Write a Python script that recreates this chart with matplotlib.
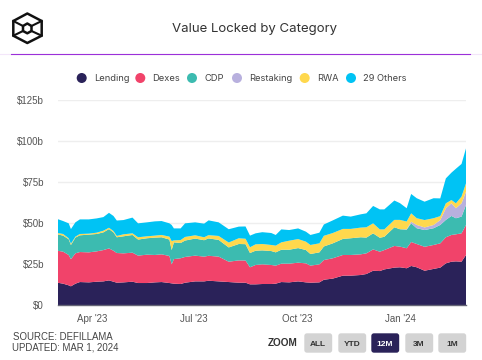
import matplotlib
matplotlib.use('Agg')
import matplotlib.pyplot as plt
import pandas as pd
from matplotlib.patches import Circle, FancyBboxPatch, Polygon

# Days since 1 Mar 2023, values in $b
days = [0, 5, 10, 12, 16, 20, 28, 35, 41, 46, 50, 53, 59, 67, 72, 80, 87, 93, 100, 102, 104,
        110, 114, 123, 131, 135, 144, 153, 162, 168, 172, 177, 183, 191, 195, 200, 207, 215,
        222, 226, 234, 238, 246, 255, 262, 271, 276, 282, 288, 292, 301, 306, 312, 316, 321,
        328, 336, 342, 347, 352, 356, 361, 365]
lending = [13.6, 13.0, 12.0, 11.4, 13.0, 14.0, 13.8, 14.2, 14.4, 15.0, 14.2, 13.6, 13.8, 14.2, 13.4, 13.4, 13.8,
           14.0, 13.4, 13.2, 13.0, 12.8, 13.6, 14.4, 14.4, 14.8, 14.4, 14.0, 13.6, 13.6, 12.6, 12.6, 12.8,
           12.8, 13.0, 14.0, 13.8, 14.4, 13.8, 13.6, 13.8, 15.4, 16.1, 17.9, 17.9, 18.3, 18.9, 20.9, 20.7,
           21.7, 22.8, 23.0, 22.4, 23.8, 23.0, 20.9, 22.0, 22.8, 25.4, 26.4, 26.6, 26.4, 30.5]
dexes = [19.5, 19.5, 18.5, 16.5, 18.5, 18.3, 18.3, 18.5, 19.1, 19.5, 18.9, 18.1, 17.7, 17.7, 16.7, 17.3, 16.7,
         16.9, 16.5, 11.6, 15.0, 15.7, 15.7, 15.7, 15.1, 15.2, 15.1, 12.4, 13.6, 13.5, 10.4, 11.8, 12.0,
         11.6, 11.0, 11.2, 11.4, 11.4, 11.6, 10.4, 11.0, 12.0, 12.4, 12.6, 12.6, 12.6, 12.6, 13.0, 11.8,
         11.8, 13.2, 12.6, 12.2, 14.6, 14.2, 14.6, 14.6, 14.8, 15.9, 16.3, 16.5, 17.3, 18.3]
cdp = [10.0, 9.8, 9.6, 8.7, 9.6, 10.2, 10.8, 10.6, 10.8, 11.8, 11.2, 9.6, 10.4, 10.8, 9.8, 10.0, 10.6,
       10.4, 10.0, 8.7, 10.2, 9.3, 10.0, 10.4, 10.0, 10.6, 10.2, 8.7, 10.0, 10.0, 8.7, 8.7, 8.5,
       8.5, 8.1, 8.5, 8.5, 8.9, 8.1, 7.1, 7.3, 8.3, 9.1, 9.8, 10.2, 10.4, 9.6, 9.8, 8.5,
       8.1, 11.4, 10.6, 11.3, 11.4, 9.6, 10.2, 10.2, 11.2, 10.6, 11.6, 9.8, 10.2, 12.2]
restaking = [0] * 52 + [0.3, 1.0, 2.0, 1.6, 2.0, 3.0, 7.1, 7.7, 6.1, 8.1, 8.1]
rwa = [0.8, 1.0, 0.6, 0.8, 0.6, 0.8, 0.6, 0.8, 1.0, 0.8, 0.8, 0.8, 1.2, 1.0, 1.4, 1.2, 1.2,
       1.4, 1.8, 5.5, 1.2, 1.8, 2.2, 2.0, 1.8, 2.0, 2.4, 3.0, 3.5, 3.3, 3.5, 3.9, 3.9,
       3.7, 4.1, 4.5, 5.5, 5.5, 5.1, 5.5, 5.5, 6.5, 6.3, 6.1, 5.7, 5.9, 6.3, 6.1, 5.1,
       4.5, 4.5, 5.7, 4.7, 5.1, 4.1, 4.5, 4.1, 2.4, 3.0, 2.0, 3.0, 4.1, 5.1]
others = [8.5, 7.9, 9.1, 8.9, 8.7, 8.9, 8.7, 8.7, 8.3, 9.1, 9.2, 9.4, 8.7, 9.6, 8.5, 8.5, 8.7,
          8.5, 8.1, 9.8, 7.3, 7.1, 8.3, 7.9, 8.3, 9.0, 8.3, 8.1, 7.1, 7.5, 7.1, 6.7, 7.2,
          7.3, 6.5, 7.9, 6.5, 6.5, 6.1, 6.1, 6.5, 6.9, 7.7, 8.1, 7.5, 8.1, 8.5, 10.6, 12.2,
          12.2, 11.8, 10.2, 8.1, 11.8, 12.2, 11.2, 12.2, 10.8, 15.2, 16.7, 21.1, 19.9, 21.3]

names = ['Lending', 'Dexes', 'CDP', 'Restaking', 'RWA', '29 Others']
colors = ['#2A2259', '#F1436A', '#3CBBB0', '#B8B0DE', '#FFD84D', '#00C3F4']
y_ticks = [0, 25, 50, 75, 100, 125]
y_labels = ['$0', '$25b', '$50b', '$75b', '$100b', '$125b']
x_ticks = ['2023-04-01', '2023-07-01', '2023-10-01', '2024-01-01']
x_labels = ["Apr '23", "Jul '23", "Oct '23", "Jan '24"]
buttons = ['ALL', 'YTD', '12M', '3M', '1M']

W, H = 482, 360
dates = pd.Timestamp('2023-03-01') + pd.to_timedelta(days, unit='D')

fig = plt.figure(figsize=(W / 100, H / 100), dpi=100)
ax = fig.add_axes([57.5 / W, 1 - 305 / H, (466 - 57.5) / W, 205 / H])
ax.stackplot(dates, lending, dexes, cdp, restaking, rwa, others, colors=colors, linewidth=0, zorder=2)
ax.set_xlim(dates[0], dates[-1])
ax.set_ylim(0, 125)
ax.set_yticks(y_ticks, y_labels)
ax.set_xticks(pd.to_datetime(x_ticks), x_labels)
ax.grid(axis='y', color='#EEEEEE', lw=1, zorder=0)
ax.set_axisbelow(True)
for side in ['top', 'left', 'right']:
    ax.spines[side].set_visible(False)
ax.spines['bottom'].set_color('#666677')
ax.spines['bottom'].set_linewidth(1)
ax.tick_params(length=0, labelsize=7, labelcolor='#555555')
ax.tick_params(axis='y', pad=9.7)
ax.tick_params(axis='x', pad=6.5)
for t in ax.get_xticklabels() + ax.get_yticklabels():
    t.set_fontfamily('Liberation Sans')

# everything around the plot, in pixel coordinates
bg = fig.add_axes([0, 0, 1, 1], zorder=-1)
bg.set_xlim(0, W)
bg.set_ylim(H, 0)
bg.axis('off')

hex_out = [(27.3, 13.5), (41.7, 21), (41.7, 35.7), (27.3, 43), (13.3, 35.7), (13.3, 21)]
hex_in = [(27.3, 23.5), (31.5, 26), (31.5, 31), (27.3, 33.3), (23, 31), (23, 26)]
bg.add_patch(Polygon(hex_out, closed=True, fill=False, ec='#111111', lw=1.8, joinstyle='round'))
bg.add_patch(Polygon(hex_in, closed=True, fill=False, ec='#111111', lw=1.8, joinstyle='round'))
for i in [1, 2, 4, 5]:
    bg.plot([hex_out[i][0], hex_in[i][0]], [hex_out[i][1], hex_in[i][1]], color='#111111', lw=1.5)

bg.plot([0, W], [53.5, 53.5], color='#F3E6FA', lw=0.8)
bg.plot([11, 470], [53.5, 53.5], color='#9B30D9', lw=0.8)
bg.text(255, 29, 'Value Locked by Category', ha='center', va='center', family='Inter',
        fontsize=9.5, color='#333333')

dot_x = [81.7, 140.3, 192, 237, 304.7, 351]
label_x = [93.7, 152.3, 204.3, 249.3, 316.7, 363]
for name, color, dx, lx in zip(names, colors, dot_x, label_x):
    bg.add_patch(Circle((dx, 78), 5, color=color, lw=0))
    bg.text(lx, 78.5, name, ha='left', va='center', family='Inter', fontsize=6.7, color='#444444')

bg.text(13, 337.5, 'SOURCE: DEFILLAMA', ha='left', va='center', family='Liberation Sans',
        fontsize=6.9, color='#444444')
bg.text(12, 347.5, 'UPDATED: MAR 1, 2024', ha='left', va='center', family='Liberation Sans',
        fontsize=6.9, color='#444444')
bg.text(268, 342.5, 'ZOOM', ha='left', va='center', family='Liberation Sans',
        fontsize=7.2, fontweight='bold', color='#333333')

button_x = [304, 338, 371, 405, 438]
for label, bx in zip(buttons, button_x):
    active = label == '12M'
    bg.add_patch(FancyBboxPatch((bx + 1, 334), 26.5, 18, boxstyle='round,pad=0,rounding_size=2',
                                fc='#2A2259' if active else '#D3D3D3', ec='#2A2259' if active else '#D3D3D3', lw=1))
    bg.text(bx + 14, 344, label, ha='center', va='center', family='Liberation Sans', fontsize=6,
            fontweight='bold', color='white' if active else '#333333')

fig.savefig('out.png', dpi=100)
